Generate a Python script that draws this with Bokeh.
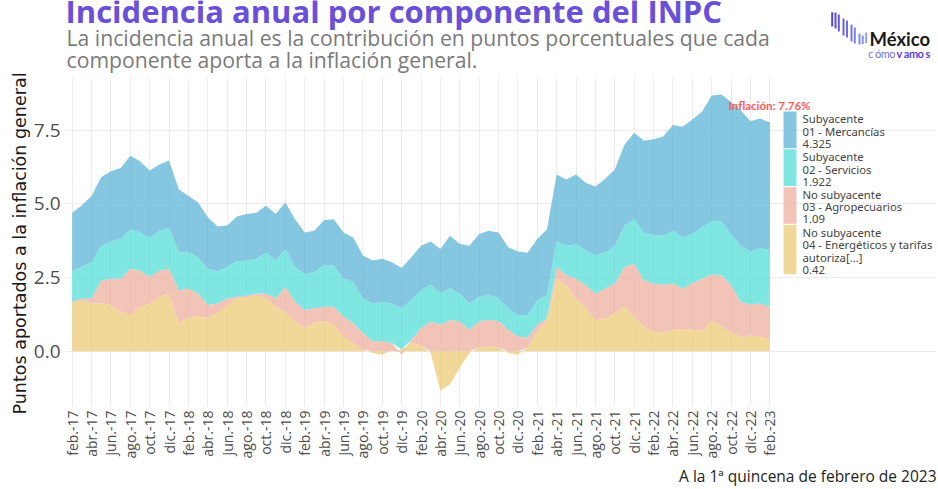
import numpy as np
from bokeh.plotting import figure
from bokeh.layouts import column, row
from bokeh.models import Range1d, FixedTicker, Label, BoxAnnotation, PrintfTickFormatter, Title
from bokeh.embed import file_html
from bokeh.resources import INLINE

# ---- data: incidencia anual (puntos porcentuales), 1a quincena de cada mes, feb-2017 .. feb-2023
energeticos = [1.62, 1.74, 1.62, 1.62, 1.57, 1.34, 1.23, 1.51, 1.62, 1.85, 1.93, 0.95, 1.14,
               1.18, 1.14, 1.29, 1.57, 1.79, 1.83, 1.90, 1.79, 1.51, 1.34, 1.01, 0.78,
               0.99, 1.03, 0.90, 0.50, 0.28, 0.06, -0.06, -0.11, 0.02, 0.06, 0.28, 0.20,
               -0.06, -1.34, -1.12, -0.56, -0.06, 0.13, 0.18, 0.13, -0.06, -0.11, 0.11, 0.67,
               1.06, 2.46, 2.24, 1.79, 1.46, 1.06, 1.10, 1.29, 1.51, 1.18, 0.84, 0.67,
               0.62, 0.73, 0.76, 0.73, 0.69, 1.03, 0.84, 0.62, 0.50, 0.54, 0.50, 0.42]
agropecuarios = [0.06, 0.05, 0.17, 0.79, 0.89, 1.12, 1.57, 1.23, 0.90, 0.89, 0.87, 1.12, 0.99,
                 0.78, 0.43, 0.33, 0.22, 0.06, 0.05, 0.06, 0.17, 0.28, 0.84, 0.67, 0.62,
                 0.47, 0.48, 0.61, 0.68, 0.67, 0.56, 0.34, 0.34, 0.26, -0.12, 0.11, 0.58,
                 1.01, 0.90, 1.06, 1.01, 0.73, 0.88, 0.88, 0.90, 0.73, 0.50, 0.36, 0.23,
                 0.06, 0.40, 0.34, 0.67, 0.78, 0.90, 1.03, 1.01, 1.35, 1.79, 1.57, 1.63,
                 1.64, 1.57, 1.37, 1.57, 1.77, 1.57, 1.74, 1.62, 1.18, 1.05, 1.12, 1.09]
servicios = [1.06, 1.07, 1.23, 1.17, 1.26, 1.35, 1.34, 1.29, 1.34, 1.35, 1.40, 1.29, 1.23,
             1.23, 1.23, 1.09, 1.07, 1.20, 1.20, 1.18, 1.38, 1.29, 1.29, 1.18, 1.23,
             1.23, 1.42, 1.40, 1.28, 1.40, 1.17, 1.28, 1.34, 1.34, 1.40, 1.35, 1.29,
             1.25, 1.06, 1.09, 0.95, 0.89, 0.84, 0.84, 0.78, 0.73, 0.71, 0.76, 0.84,
             0.78, 0.89, 1.00, 1.18, 1.18, 1.29, 1.23, 1.28, 1.40, 1.51, 1.62, 1.64,
             1.66, 1.79, 1.73, 1.68, 1.74, 1.82, 1.81, 1.74, 1.90, 1.79, 1.88, 1.922]
mercancias = [1.96, 2.09, 2.24, 2.33, 2.38, 2.40, 2.49, 2.41, 2.27, 2.24, 2.27, 2.13, 1.90,
              1.85, 1.74, 1.52, 1.40, 1.52, 1.57, 1.56, 1.59, 1.57, 1.57, 1.62, 1.40,
              1.40, 1.52, 1.57, 1.57, 1.51, 1.46, 1.46, 1.46, 1.40, 1.36, 1.45, 1.51,
              1.46, 1.51, 1.77, 1.68, 1.96, 2.13, 2.19, 2.22, 2.07, 2.17, 2.11, 2.07,
              2.24, 2.24, 2.24, 2.35, 2.29, 2.33, 2.49, 2.58, 2.74, 2.93, 3.11, 3.25,
              3.36, 3.58, 3.75, 3.88, 3.92, 4.25, 4.31, 4.47, 4.59, 4.42, 4.39, 4.325]

tick_labels = ["feb.-17", "abr.-17", "jun.-17", "ago.-17", "oct.-17", "dic.-17",
               "feb.-18", "abr.-18", "jun.-18", "ago.-18", "oct.-18", "dic.-18",
               "feb.-19", "abr.-19", "jun.-19", "ago.-19", "oct.-19", "dic.-19",
               "feb.-20", "abr.-20", "jun.-20", "ago.-20", "oct.-20", "dic.-20",
               "feb.-21", "abr.-21", "jun.-21", "ago.-21", "oct.-21", "dic.-21",
               "feb.-22", "abr.-22", "jun.-22", "ago.-22", "oct.-22", "dic.-22",
               "feb.-23"]

series = [  # bottom to top of the stack
    ("No subyacente", "04 - Energéticos y tarifas", "autoriza[...]", energeticos, "#EFCE7E"),
    ("No subyacente", "03 - Agropecuarios", None, agropecuarios, "#EFB5A6"),
    ("Subyacente", "02 - Servicios", None, servicios, "#5FE0DB"),
    ("Subyacente", "01 - Mercancías", None, mercancias, "#66B8D8"),
]

x = np.arange(len(energeticos))
tick_pos = list(range(0, len(energeticos), 2))

TOTAL_W, TOTAL_H = 936, 487
YL_W = 30            # left strip holding the y-axis title
HEAD_H = 77          # header strip (title, subtitle, logo)
W = TOTAL_W - YL_W
MAIN_H = TOTAL_H - HEAD_H


def blank(width, height):
    f = figure(width=width, height=height, output_backend="svg", toolbar_location=None, title=None,
               x_axis_location=None, y_axis_location=None,
               x_range=Range1d(0, 1), y_range=Range1d(0, 1),
               min_border_left=0, min_border_right=0, min_border_top=0, min_border_bottom=0)
    f.frame_align = False
    f.outline_line_color = None
    f.background_fill_color = "white"
    f.border_fill_color = "white"
    f.grid.visible = False
    return f


# ---------------- y-axis title strip
yl = blank(YL_W, TOTAL_H)
yl.add_layout(Label(x=19, y=TOTAL_H - 243, x_units="screen", y_units="screen", angle=np.pi / 2,
                    text="Puntos aportados a la inflación general", text_font="DejaVu Sans",
                    text_font_size="17.5px", text_color="#1a1a1a", text_align="center",
                    text_baseline="middle"))

# ---------------- header (title, subtitle, logo); page x = YL_W + screen x
h = blank(W, HEAD_H)

def hlab(text, px, py, size, color, font="Roboto", style="normal", align="left"):
    h.add_layout(Label(x=px - YL_W, y=HEAD_H - py, x_units="screen", y_units="screen", text=text,
                       text_font=font, text_font_size=size, text_color=color,
                       text_font_style=style, text_align=align, text_baseline="alphabetic"))

hlab("Incidencia anual por componente del INPC", 65, 10.5, "31px", "#6a4fd9", font="Open Sans", style="bold")
hlab("La incidencia anual es la contribución en puntos porcentuales que cada", 66, 36.5, "21.2px", "#7a7a7a", font="Open Sans")
hlab("componente aporta a la inflación general.", 66, 59, "21.2px", "#7a7a7a", font="Open Sans")

bars = [(831.7, 11.7, 26), (835, 12, 28), (838.3, 14, 31), (843, 18, 35), (846.5, 20, 37),
        (851, 24, 41), (854.3, 27, 43), (859, 33, 44), (862.3, 35, 43.5), (865.7, 32, 42.5)]
bar_cols = ["#5546d0", "#5a4fd6", "#6058da", "#6762de", "#6d6ce2", "#7476e6", "#7a80ea",
            "#818bee", "#8895f2", "#8f9ff5"]
for (bx, bt, bb), bc in zip(bars, bar_cols):
    h.add_layout(BoxAnnotation(left=bx - 1 - YL_W, right=bx + 1 - YL_W, top=HEAD_H - bt, bottom=HEAD_H - bb,
                               left_units="screen", right_units="screen", top_units="screen",
                               bottom_units="screen", fill_color=bc, fill_alpha=1, line_color=None))
hlab("México", 869, 38, "18.5px", "#1a1a1a", font="Lato", style="bold")
for i, ch in enumerate("cómovamos"):
    if i < 4:
        hlab(ch, 870.5 + 7.1 * i, 52.5, "11px", "#7a6fe0", font="Lato", align="center")
    else:
        hlab(ch, 870.5 + 7.1 * i, 52.5, "11px", "#5b47d6", font="Lato", style="bold", align="center")

# ---------------- main chart
p = figure(width=W, height=MAIN_H, output_backend="svg", toolbar_location=None, title=None,
           x_range=Range1d(-0.69, 89.2), y_range=Range1d(-1.87, 9.28),
           min_border_left=65 - YL_W, min_border_right=0, min_border_top=0, min_border_bottom=78)
p.frame_align = False
p.outline_line_color = None
p.background_fill_color = "white"
p.border_fill_color = "white"

# stacked areas (positive and negative parts stacked separately)
pos_base = np.zeros(len(x))
neg_base = np.zeros(len(x))
for _, _, _, vals, col in series:
    v = np.array(vals, dtype=float)
    lower = np.where(v >= 0, pos_base, neg_base)
    upper = lower + v
    pos_base = np.where(v >= 0, upper, pos_base)
    neg_base = np.where(v < 0, upper, neg_base)
    p.varea(x=x, y1=lower, y2=upper, fill_color=col, fill_alpha=0.8)

# axes
p.xaxis.ticker = FixedTicker(ticks=tick_pos)
p.xaxis.major_label_overrides = {t: lab for t, lab in zip(tick_pos, tick_labels)}
p.xaxis.major_label_orientation = np.pi / 2
p.yaxis.ticker = FixedTicker(ticks=[0, 2.5, 5, 7.5])
p.yaxis.formatter = PrintfTickFormatter(format="%.1f")
for ax in (p.xaxis, p.yaxis):
    ax.axis_line_color = None
    ax.major_tick_line_color = None
    ax.minor_tick_line_color = None
    ax.major_tick_out = 0
    ax.major_tick_in = 0
    ax.minor_tick_out = 0
    ax.minor_tick_in = 0
    ax.major_label_text_color = "#4d4d4d"
    ax.major_label_text_font = "Open Sans"
p.xaxis.major_label_text_font_size = "14px"
p.xaxis.major_label_standoff = 4
p.yaxis.major_label_text_font_size = "19px"
p.yaxis.major_label_standoff = 5

p.xgrid.ticker = FixedTicker(ticks=tick_pos)
p.ygrid.ticker = FixedTicker(ticks=[0, 2.5, 5, 7.5])
for g in (p.xgrid, p.ygrid):
    g.grid_line_color = "#ebebeb"
    g.grid_line_width = 1

# caption
p.add_layout(Title(text="A la 1ª quincena de febrero de 2023", align="right", text_font="Open Sans",
                   text_font_size="15.5px", text_font_style="normal", text_color="#222222",
                   standoff=2), "below")

# helpers: page pixel -> frame screen units of the main chart
FL, FB = 65, 409
def sx(px):
    return px - FL
def sy(py):
    return FB - py

def lab(text, px, py, size, color, font="Roboto", style="normal", align="left"):
    p.add_layout(Label(x=sx(px), y=sy(py), x_units="screen", y_units="screen", text=text,
                       text_font=font, text_font_size=size, text_color=color,
                       text_font_style=style, text_align=align, text_baseline="alphabetic"))

# inflation annotation
total = sum(s[3][-1] for s in series)
lab(f"Inflación: {total:.2f}%", 769, 107.5, "11.5px", "#ff5c5c", font="Lato", style="bold", align="center")

# legend (top to bottom: Mercancías, Servicios, Agropecuarios, Energéticos)
lh = 12.45
top = 114.0
for grp, name, extra, vals, col in series[::-1]:
    lines = [grp, name] + ([extra] if extra else []) + [f"{vals[-1]}"]
    n = len(lines)
    p.add_layout(BoxAnnotation(left=sx(783), right=sx(796), top=sy(top), bottom=sy(top + n * lh - 0.7),
                               left_units="screen", right_units="screen", top_units="screen",
                               bottom_units="screen", fill_color=col, fill_alpha=0.8, line_color=None))
    for i, t in enumerate(lines):
        lab(t, 802, top + 7.3 + i * lh, "11.3px", "#444444", font="Noto Sans")
    top += n * lh + 0.5

layout = row(yl, column(h, p, spacing=0), spacing=0)
open("out.html", "w").write(file_html(layout, INLINE))
